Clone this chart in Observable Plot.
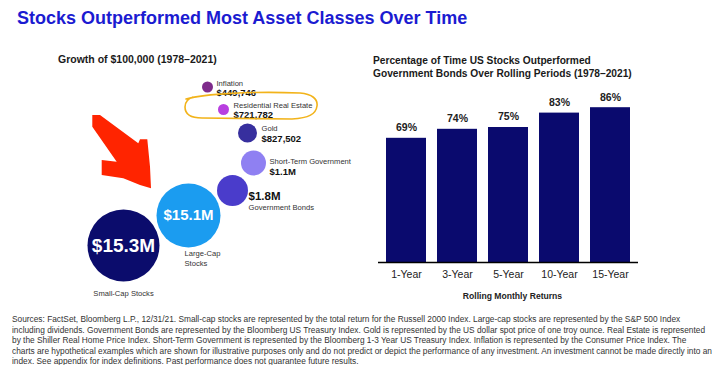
<!DOCTYPE html>
<html><head><meta charset="utf-8">
<script src="https://cdn.jsdelivr.net/npm/d3@7"></script>
<script src="https://cdn.jsdelivr.net/npm/@observablehq/plot@0.6"></script>
<style>
body{margin:0;background:#fff;}
#page{position:relative;width:720px;height:365px;overflow:hidden;background:#fff;font-family:"Liberation Sans",Arial,sans-serif;}
.abs{position:absolute;white-space:nowrap;}
#title{left:17px;top:8.8px;font-size:18px;line-height:18px;font-weight:bold;color:#1b1bd1;}
#ltitle{left:58px;top:54px;font-size:10.5px;line-height:10.5px;font-weight:bold;color:#1a1a1a;}
#rtitle{left:373px;top:53.7px;font-size:10.2px;line-height:13.5px;font-weight:bold;color:#1a1a1a;}
#foot{left:12px;top:314.3px;font-size:9.6px;line-height:10.4px;color:#333;transform-origin:0 0;}
#foot span{display:inline-block;white-space:nowrap;}
#left{left:0;top:0;}
#right{left:360px;top:80px;}
#anno{left:0;top:0;pointer-events:none;}
</style></head><body><div id="page">
<div id="left" class="abs"></div>
<div id="right" class="abs"></div>
<div id="title" class="abs"></div>
<div id="ltitle" class="abs"></div>
<div id="rtitle" class="abs"></div>
<div id="foot" class="abs"></div>
<svg id="anno" class="abs" width="720" height="365"></svg>
</div>
<script>
// ---- text ----
const title = "Stocks Outperformed Most Asset Classes Over Time";
const leftTitle = "Growth of $100,000 (1978\u20132021)";
const rightTitle = ["Percentage of Time US Stocks Outperformed", "Government Bonds Over Rolling Periods (1978\u20132021)"];
const xAxisLabel = "Rolling Monthly Returns";
const footnote = [
  "Sources: FactSet, Bloomberg L.P., 12/31/21. Small-cap stocks are represented by the total return for the Russell 2000 Index. Large-cap stocks are represented by the S&P 500 Index",
  "including dividends. Government Bonds are represented by the Bloomberg US Treasury Index. Gold is represented by the US dollar spot price of one troy ounce. Real Estate is represented",
  "by the Shiller Real Home Price Index. Short-Term Government is represented by the Bloomberg 1-3 Year US Treasury Index. Inflation is represented by the Consumer Price Index. The",
  "charts are hypothetical examples which are shown for illustrative purposes only and do not predict or depict the performance of any investment. An investment cannot be made directly into an",
  "index. See appendix for index definitions. Past performance does not guarantee future results."
];

// ---- data: growth of $100,000 ----
const assets = ["Small-Cap Stocks", "Large-Cap Stocks", "Government Bonds", "Short-Term Government", "Gold", "Residential Real Estate", "Inflation"];
const assetLabels = ["Small-Cap Stocks", "Large-Cap\nStocks", "Government Bonds", "Short-Term Government", "Gold", "Residential Real Estate", "Inflation"];
const growth = [15300000, 15100000, 1800000, 1100000, 827502, 721782, 449746];
const growthLabels = ["$15.3M", "$15.1M", "$1.8M", "$1.1M", "$827,502", "$721,782", "$449,746"];

// ---- data: % of time stocks outperformed bonds ----
const periods = ["1-Year", "3-Year", "5-Year", "10-Year", "15-Year"];
const pctOutperformed = [69, 74, 75, 83, 86];

// ---- layout / style (bubble diagram placement) ----
const bubbleLayout = [
  {cx:123, cy:245, r:36,   fill:"#0b0c6c", inside:true, vSize:19,  nx:123, ny:292, nAnchor:"middle"},
  {cx:188, cy:215, r:32,   fill:"#1b9cf0", inside:true, vSize:15,  nx:184, ny:257, nAnchor:"start"},
  {cx:232, cy:190, r:15.5, fill:"#4a3ccb", vx:248, vy:195.5, vSize:11.5, nx:248, ny:206, nAnchor:"start"},
  {cx:253, cy:162.5, r:12.5, fill:"#8f80f2", vx:269, vy:171, vSize:9.5, nx:269, ny:160.5, nAnchor:"start"},
  {cx:247, cy:132.5, r:9.5, fill:"#372f9e", vx:261, vy:138.8, vSize:9.5, nx:261, ny:127.8, nAnchor:"start"},
  {cx:223, cy:109, r:5.5,  fill:"#b83fe0", vx:233, vy:114.5, vSize:9.5, nx:233, ny:104, nAnchor:"start"},
  {cx:207, cy:86.5, r:5.5, fill:"#7e2b8b", vx:216, vy:92.5,  vSize:9.5, nx:216, ny:82, nAnchor:"start"}
];

const font = "Liberation Sans, Arial, sans-serif";
document.getElementById("title").textContent = title;
document.getElementById("ltitle").textContent = leftTitle;
document.getElementById("rtitle").innerHTML = rightTitle.join("<br>");
const foot = document.getElementById("foot");
const spans = footnote.map(t => {
  const line = document.createElement("div");
  const s = document.createElement("span");
  s.textContent = t; line.appendChild(s); foot.appendChild(line);
  return s;
});
// condense the footnote horizontally so the longest line spans ~700px, as in the reference
const widest = Math.max(...spans.map(s => s.getBoundingClientRect().width));
foot.style.transform = `scaleX(${700 / widest})`;

const rows = assets.map((a, i) => ({asset: a, label: assetLabels[i], value: growth[i], text: growthLabels[i], ...bubbleLayout[i]}));

const textMarks = [];
rows.forEach(d => {
  if (d.inside) {
    textMarks.push(Plot.text([d], {x: "cx", y: "cy", text: "text", fill: "white", fontWeight: "bold", fontSize: d.vSize, textAnchor: "middle"}));
  } else {
    textMarks.push(Plot.text([d], {x: "vx", y: "vy", text: "text", fill: "#111", fontWeight: "bold", fontSize: d.vSize, textAnchor: "start"}));
  }
  textMarks.push(Plot.text([d], {x: "nx", y: "ny", text: "label", fill: "#333", fontSize: 7.6, textAnchor: d.nAnchor, lineHeight: 1.3}));
});

const left = Plot.plot({
  width: 360, height: 310, margin: 0,
  style: {fontFamily: font, background: "transparent"},
  x: {domain: [0, 360], range: [0, 360], axis: null},
  y: {domain: [0, 310], range: [0, 310], axis: null},
  r: {type: "identity"},
  marks: [
    Plot.dot(rows, {x: "cx", y: "cy", r: "r", fill: "fill", stroke: null}),
    ...textMarks
  ]
});
document.getElementById("left").appendChild(left);

const bars = periods.map((p, i) => ({period: p, pct: pctOutperformed[i]}));
const right = Plot.plot({
  width: 360, height: 230,
  marginTop: 2, marginBottom: 48, marginLeft: 18, marginRight: 82,
  style: {fontFamily: font, background: "transparent", color: "#222"},
  x: {domain: periods, paddingInner: 0.21, paddingOuter: 0.115, label: null},
  y: {domain: [0, 100], axis: null},
  marks: [
    Plot.barY(bars, {x: "period", y: "pct", fill: "#0a0a6e"}),
    Plot.text(bars, {x: "period", y: "pct", text: d => d.pct + "%", dy: -10.5, fontWeight: "bold", fontSize: 10.5, fill: "#222"}),
    Plot.ruleY([0], {stroke: "#000", strokeWidth: 1.5}),
    Plot.axisX({tickSize: 0, tickPadding: 8.5, fontSize: 10.5, label: null}),
    Plot.text([xAxisLabel], {frameAnchor: "bottom", dy: 36.5, dx: 4, fontWeight: "bold", fontSize: 8.6, fill: "#222"})
  ]
});
document.getElementById("right").appendChild(right);

// ---- hand-drawn annotations (arrow + highlight) ----
const anno = d3.select("#anno");
anno.append("path")
  .attr("d", "M92.3,115 L100,115 L138.3,143.3 L140,139.3 L147.3,139.3 L150,166.7 L151,188.3 L140,185 L123.3,178.3 L101.7,175 L101.7,160 L116.7,161.7 L92.3,126.7 Z")
  .attr("fill", "#ff2400");
anno.append("path")
  .attr("d", "M186,99 C205,94 250,91 300,93 C312,94 318,99 317,106 C316,114 309,118 292,119 L202,118 C191,118 185,114 185,107 C185,102 187,99 193,97")
  .attr("fill", "none").attr("stroke", "#f2b31a").attr("stroke-width", 1.6).attr("stroke-linecap", "round");
</script>
</body></html>
